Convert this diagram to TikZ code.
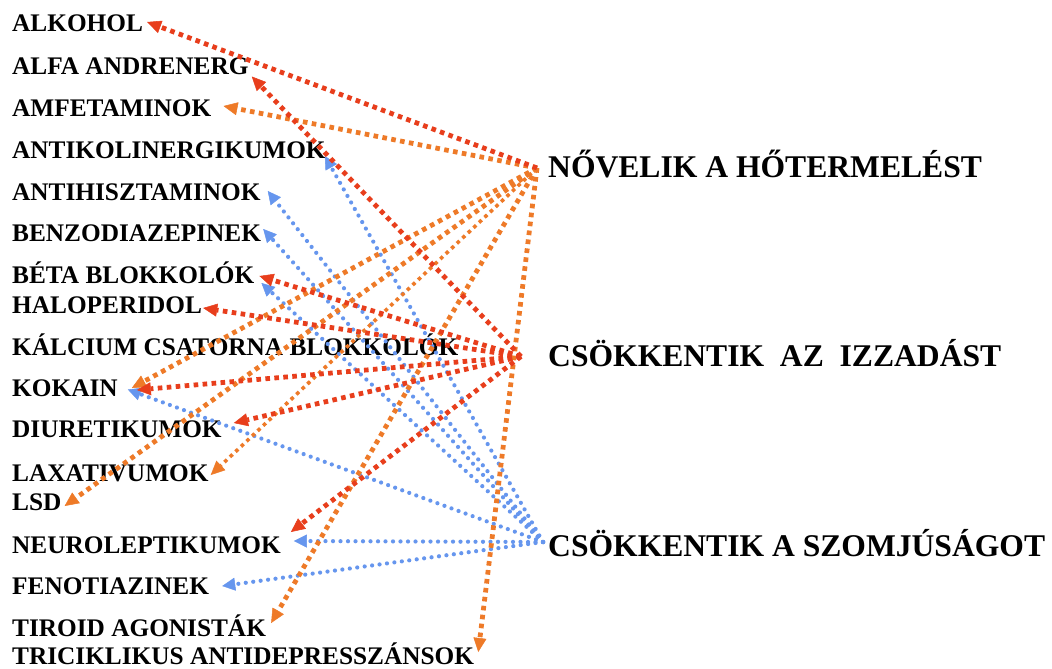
\documentclass[tikz,border=0pt]{standalone}
\usepackage{fontspec}
\setmainfont{Liberation Serif}
\usetikzlibrary{arrows.meta}
\definecolor{cred}{RGB}{232,62,28}
\definecolor{corange}{RGB}{238,122,40}
\definecolor{cblue}{RGB}{102,150,238}
\tikzset{
  item/.style={anchor=base west, inner sep=0pt, text=black, font=\bfseries\fontsize{25.3}{30}\selectfont},
  cat/.style={anchor=base west, inner sep=0pt, text=black, font=\bfseries\fontsize{31.6}{38}\selectfont},
  redarr/.style={draw=cred, line width=4.8pt, dash pattern=on 4.6pt off 4.4pt,
    -{Triangle[length=14pt,width=13pt,line width=0.5pt,fill=cred,color=cred]}},
  orarr/.style={draw=corange, line width=4.8pt, dash pattern=on 4.6pt off 4.4pt,
    -{Triangle[length=14pt,width=13pt,line width=0.5pt,fill=corange,color=corange]}},
  thinorarr/.style={orarr, line width=3.6pt, dash pattern=on 3.6pt off 4pt},
  bluearr/.style={draw=cblue, line width=4.2pt, line cap=round, dash pattern=on 0pt off 7.5pt,
    -{Triangle[length=13pt,width=13pt,line width=0.5pt,fill=cblue,color=cblue]}},
}
\begin{document}
\begin{tikzpicture}[x=1pt,y=-1pt]
\useasboundingbox[fill=white] (0,0) rectangle (1052,669);
% left list
\node[item] (alk)   at (12,32)    {ALKOHOL};
\node[item] (alfa)  at (12,74.5)  {ALFA ANDRENERG};
\node[item] (amf)   at (12,116.5) {AMFETAMINOK};
\node[item] (antik) at (12,158.5) {ANTIKOLINERGIKUMOK};
\node[item] (antih) at (12,200)   {ANTIHISZTAMINOK};
\node[item] (benzo) at (12,241.5) {BENZODIAZEPINEK};
\node[item] (beta)  at (12,283.5) {BÉTA BLOKKOLÓK};
\node[item] (halo)  at (12,313.5) {HALOPERIDOL};
\node[item] (kalc)  at (12,355.5) {KÁLCIUM CSATORNA BLOKKOLÓK};
\node[item] (kok)   at (12,396.5) {KOKAIN};
\node[item] (diur)  at (12,437.5) {DIURETIKUMOK};
\node[item] (lax)   at (12,481.5) {LAXATIVUMOK};
\node[item] (lsd)   at (12,510.5) {LSD};
\node[item] (neuro) at (12,553.5) {NEUROLEPTIKUMOK};
\node[item] (feno)  at (12,594.5) {FENOTIAZINEK};
\node[item] (tir)   at (12,636.5) {TIROID AGONISTÁK};
\node[item] (tric)  at (12,664)   {TRICIKLIKUS ANTIDEPRESSZÁNSOK};
% right categories
\node[cat] (nov) at (548,177) {NŐVELIK A HŐTERMELÉST};
\node[cat] (izz) at (548,366) {CSÖKKENTIK\ \ AZ\ \ IZZADÁST};
\node[cat] (szo) at (548,556) {CSÖKKENTIK A SZOMJÚSÁGOT};
\coordinate (nS) at ([xshift=-11pt,yshift=9pt]nov.base west);
\coordinate (iS) at ([xshift=-27pt,yshift=9.5pt]izz.base west);
\coordinate (sS) at ([xshift=-5pt,yshift=14pt]szo.base west);
% blue: decrease thirst
\draw[bluearr] (sS) -- ([xshift=-1pt,yshift=2.5pt]antik.base east);
\draw[bluearr] (sS) -- ([xshift=7pt,yshift=9pt]antih.base east);
\draw[bluearr] (sS) -- ([xshift=2pt,yshift=12.5pt]benzo.base east);
\draw[bluearr] (sS) -- ([xshift=7pt,yshift=0.5pt]beta.base east);
\draw[bluearr] (sS) -- ([xshift=10pt,yshift=7pt]kok.base east);
\draw[bluearr] (sS) -- ([xshift=13pt,yshift=12.5pt]neuro.base east);
\draw[bluearr] (sS) -- ([xshift=13pt,yshift=8.5pt]feno.base east);
% orange: increase heat production
\draw[orarr] (nS) -- ([xshift=12pt,yshift=10.5pt]amf.base east);
\draw[orarr] (nS) -- ([xshift=14pt,yshift=8.5pt]kok.base east);
\draw[orarr] (nS) -- ([xshift=3pt,yshift=4.5pt]lsd.base east);
\draw[thinorarr] (nS) -- ([xshift=2pt,yshift=6.5pt]lax.base east);
\draw[orarr] (nS) -- ([xshift=5pt,yshift=13.5pt]tir.base east);
\draw[orarr] (nS) -- ([xshift=4pt,yshift=12pt]tric.base east);
\draw[redarr] (nS) -- ([xshift=4pt,yshift=10pt]alk.base east);
% red: decrease sweating
\draw[redarr] (iS) -- ([xshift=3pt,yshift=-2pt]alfa.base east);
\draw[redarr] (iS) -- ([xshift=5pt,yshift=7.5pt]beta.base east);
\draw[redarr] (iS) -- ([xshift=1pt,yshift=5.5pt]halo.base east);
\draw[redarr] (iS) -- ([xshift=19pt,yshift=6.5pt]kok.base east);
\draw[redarr] (iS) -- ([xshift=12pt,yshift=14.5pt]diur.base east);
\draw[redarr] (iS) -- ([xshift=10pt,yshift=21.5pt]neuro.base east);
\end{tikzpicture}
\end{document}
